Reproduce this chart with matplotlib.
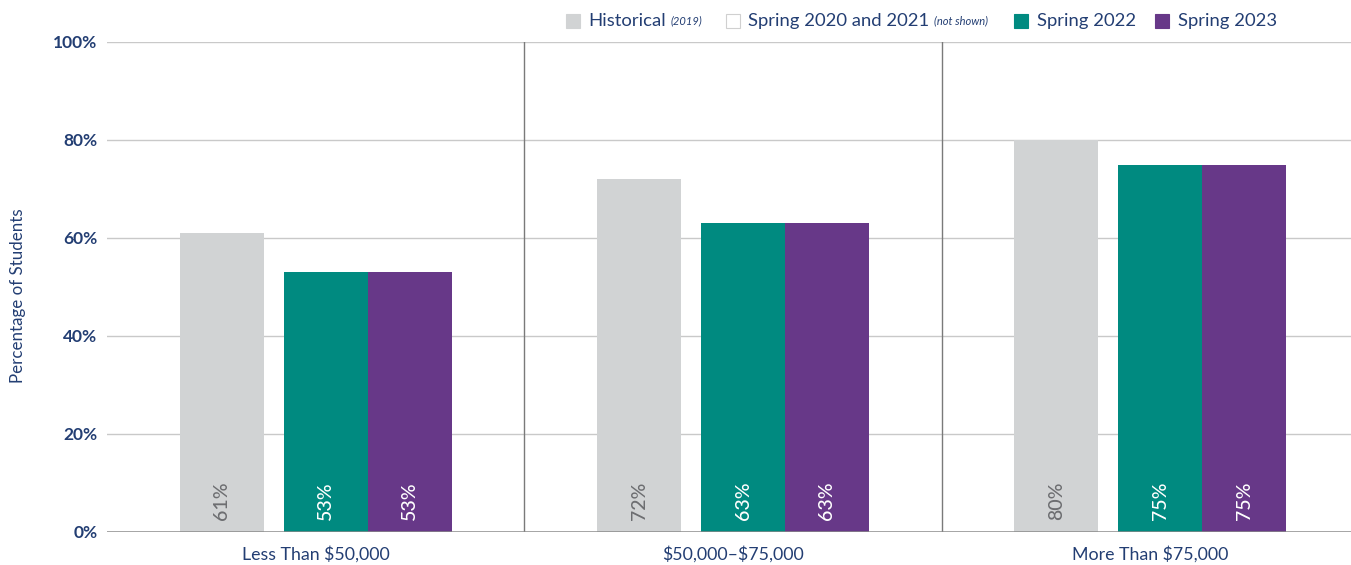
import matplotlib
matplotlib.use("Agg")
import matplotlib.pyplot as plt
from matplotlib.patches import Rectangle
import numpy as np

plt.rcParams["font.family"] = ["Lato", "DejaVu Sans"]

# donnees
categories = ["Less Than \\$50,000", "\\$50,000\u2013\\$75,000", "More Than \\$75,000"]
historical = [61, 72, 80]
spring_2022 = [53, 63, 75]
spring_2023 = [53, 63, 75]
yticks = [0, 20, 40, 60, 80, 100]

navy = "#233e73"
c_hist = "#d1d3d4"
c_2022 = "#008a80"
c_2023 = "#673888"

fig = plt.figure(figsize=(13.51, 5.65), dpi=100)
ax = fig.add_axes([107 / 1351, 33 / 565, 1252 / 1351, 490 / 565])

x = np.arange(len(categories)) + 0.5
w = 0.201
off = {"hist": -0.225, "s22": 0.024, "s23": 0.225}

ax.bar(x + off["hist"], historical, w, color=c_hist, zorder=3)
ax.bar(x + off["s22"], spring_2022, w, color=c_2022, zorder=3)
ax.bar(x + off["s23"], spring_2023, w, color=c_2023, zorder=3)

# etiquettes des barres
for i in range(len(categories)):
    ax.text(x[i] + off["hist"], 2.4, f"{historical[i]}%", rotation=90, ha="center",
            va="bottom", color="#6d6e71", fontsize=14, fontweight="medium", zorder=4)
    ax.text(x[i] + off["s22"], 2.4, f"{spring_2022[i]}%", rotation=90, ha="center",
            va="bottom", color="white", fontsize=14, fontweight="medium", zorder=4)
    ax.text(x[i] + off["s23"], 2.4, f"{spring_2023[i]}%", rotation=90, ha="center",
            va="bottom", color="white", fontsize=14, fontweight="medium", zorder=4)

ax.set_xlim(0, 3)
ax.set_ylim(0, 100)
ax.set_yticks(yticks)
ax.set_yticklabels([f"{t}%" for t in yticks], color=navy, fontsize=12.5, fontweight="bold")
ax.tick_params(axis="y", length=0, pad=7)
ax.set_xticks(x)
ax.set_xticklabels(categories, color=navy, fontsize=12.8)
ax.tick_params(axis="x", length=0, pad=10)

for t in yticks[1:]:
    ax.axhline(t, color="#c9c9c9", lw=1, zorder=1)
for xs in [1, 2]:
    ax.axvline(xs, color="#7a7a7a", lw=1, zorder=2)
ax.axhline(0, color="#8a8a8a", lw=1.8, zorder=5)

for s in ax.spines.values():
    s.set_visible(False)

fig.text(18 / 1351, 1 - 296 / 565, "Percentage of Students", rotation=90, ha="center",
         va="center", color=navy, fontsize=12.2)

# legende manuelle
yl = 1 - 21 / 565
def carre(x0, col, edge=None):
    fig.patches.append(Rectangle((x0 / 1351, (565 - 28) / 565), 14 / 1351, 14 / 565,
                                 transform=fig.transFigure, facecolor=col,
                                 edgecolor=edge if edge else col, lw=0.8))

carre(566, c_hist)
fig.text(588 / 1351, yl, "Historical", color=navy, fontsize=13.3, va="center")
fig.text(671 / 1351, yl, "(2019)", color=navy, fontsize=8, style="italic", va="center")
carre(726, "white", "#d0d0d0")
fig.text(748 / 1351, yl, "Spring 2020 and 2021", color=navy, fontsize=13.3, va="center")
fig.text(934 / 1351, yl, "(not shown)", color=navy, fontsize=8, style="italic", va="center")
carre(1014, c_2022)
fig.text(1037 / 1351, yl, "Spring 2022", color=navy, fontsize=13.3, va="center")
carre(1155, c_2023)
fig.text(1178 / 1351, yl, "Spring 2023", color=navy, fontsize=13.3, va="center")

fig.savefig("out.png", dpi=100, facecolor="white")
